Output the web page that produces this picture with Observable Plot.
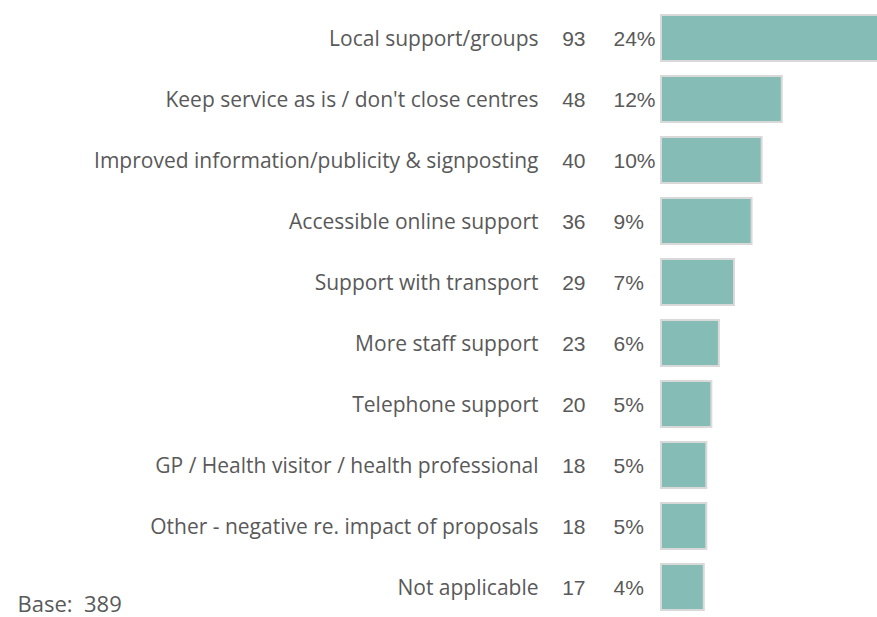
<!DOCTYPE html>
<html>
<head>
<meta charset="utf-8">
<script src="https://cdn.jsdelivr.net/npm/d3@7"></script>
<script src="https://cdn.jsdelivr.net/npm/@observablehq/plot@0.6"></script>
<style>
  html, body { margin: 0; padding: 0; background: #fff; overflow: hidden; }
  #chart svg { overflow: hidden; }
</style>
</head>
<body>
<div id="chart"></div>
<script>
const categories = [
  "Local support/groups",
  "Keep service as is / don't close centres",
  "Improved information/publicity & signposting",
  "Accessible online support",
  "Support with transport",
  "More staff support",
  "Telephone support",
  "GP / Health visitor / health professional",
  "Other - negative re. impact of proposals",
  "Not applicable"
];
const counts = [93, 48, 40, 36, 29, 23, 20, 18, 18, 17];
const percents = ["24%", "12%", "10%", "9%", "7%", "6%", "5%", "5%", "5%", "4%"];
const baseLabel = "Base:  389";

const data = categories.map((c, i) => ({category: c, count: counts[i], pct: percents[i]}));

const textColor = "#595959";

const chart = Plot.plot({
  width: 877,
  height: 617,
  marginLeft: 0,
  marginRight: 0,
  marginTop: 0,
  marginBottom: 0,
  x: {domain: [0, 93], range: [661, 895], axis: null},
  y: {domain: categories, range: [6.4, 618.6], paddingInner: 0.25, paddingOuter: 0.125, axis: null},
  style: {background: "#fff"},
  marks: [
    Plot.barX(data, {y: "category", x: "count", fill: "#86BCB6", stroke: "#D9D9D9", strokeWidth: 2}),
    Plot.text(data, {y: "category", x: () => 0, text: "category", textAnchor: "end", dx: -123, dy: 1,
      fill: textColor, fontSize: 21, fontFamily: "Open Sans"}),
    Plot.text(data, {y: "category", x: () => 0, text: d => String(d.count), textAnchor: "end", dx: -76, dy: 1,
      fill: textColor, fontSize: 21, fontFamily: "Liberation Sans"}),
    Plot.text(data, {y: "category", x: () => 0, text: "pct", textAnchor: "start", dx: -48, dy: 1,
      fill: textColor, fontSize: 21, fontFamily: "Liberation Sans"}),
    Plot.text([baseLabel], {frameAnchor: "bottom-left", text: d => d, textAnchor: "start", lineAnchor: "bottom",
      dx: 17, dy: -6, fill: textColor, fontSize: 22, fontFamily: "Open Sans"})
  ]
});
document.getElementById("chart").appendChild(chart);
</script>
</body>
</html>
